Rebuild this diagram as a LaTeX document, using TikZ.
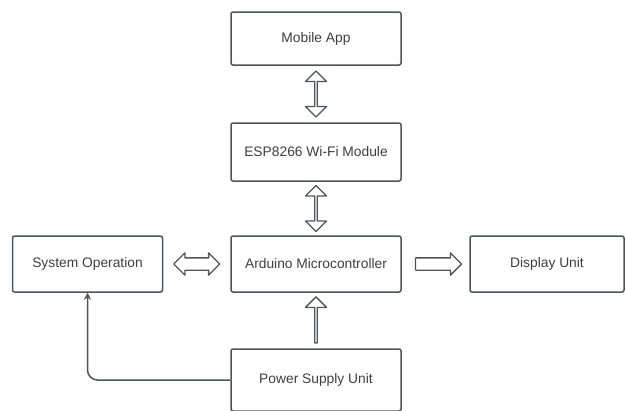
\documentclass[tikz,border=0pt]{standalone}
\usepackage{fontspec}
\setmainfont{Liberation Sans}
\usepackage{tikz}
\usetikzlibrary{
    shapes.arrows,
    arrows.meta,
    positioning,
    calc
}
\definecolor{boxline}{RGB}{78, 84, 92}
\definecolor{boxtext}{RGB}{62, 62, 62}

\begin{document}
\begin{tikzpicture}[x=1pt, y=-1pt,
    block/.style={draw=boxline, line width=1.5pt, rounded corners=2pt, minimum width=170pt,
        minimum height=56pt, inner sep=0pt, text=boxtext, font=\fontsize{13.8}{16}\selectfont},
    twoway/.style={double arrow, draw=boxline, line width=1.3pt, line join=round, minimum height=46pt,
        minimum width=21pt, double arrow head extend=5pt, inner xsep=0pt, inner ysep=5.5pt},
    oneway/.style={single arrow, draw=boxline, line width=1.3pt, line join=round, minimum height=46pt,
        minimum width=21pt, single arrow head extend=5pt, inner xsep=0pt, inner ysep=5.5pt}]
    \useasboundingbox (0,0) rectangle (626,410);

    % centre column
    \node[block, minimum height=53pt] (mobile) at (316,38.5) {Mobile App};
    \node[block, minimum height=58pt] (esp) at (316,152) {ESP8266 Wi-Fi Module};
    \node[block] (arduino) at (316,264) {Arduino Microcontroller};
    \node[block, minimum height=62pt] (power) at (316,380) {Power Supply Unit};

    % side boxes
    \node[block, minimum width=150pt] (sysop) at (87.5,264) {System Operation};
    \node[block, minimum width=154pt] (display) at (547,264) {Display Unit};

    % block arrows
    \node[twoway, shape border rotate=90] (a1) at ($(mobile.south)!0.5!(esp.north)$) {};
    \node[twoway, shape border rotate=90] (a2) at ($(esp.south)!0.5!(arduino.north)$) {};
    \node[twoway] (a3) at ($(sysop.east)!0.5!(arduino.west)$) {};
    \node[oneway] (a4) at ($(arduino.east)!0.5!(display.west)$) {};
    \node[oneway, shape border rotate=90] (a5) at ($(power.north)!0.5!(arduino.south)$) {};

    % power feed
    \draw[boxline, line width=1.5pt, rounded corners=10pt, -{Stealth[length=7pt, width=7pt]}]
        (power.west) -| (sysop.south);
\end{tikzpicture}
\end{document}
